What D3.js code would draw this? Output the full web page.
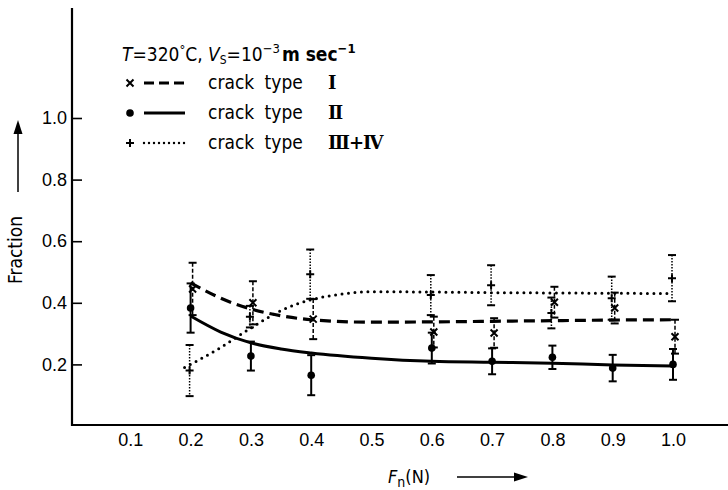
<!DOCTYPE html>
<html>
<head>
<meta charset="utf-8">
<script src="https://cdn.jsdelivr.net/npm/d3@7"></script>
<style>
  body { margin: 0; background: #fff; }
  svg { font-family: "DejaVu Sans Condensed", "Liberation Sans Narrow", "Liberation Sans", sans-serif; }
  .tick text { font-size: 18px; fill: #000; }
</style>
</head>
<body>
<div id="chart"></div>
<script>
// x values (normal force, N)
const forces = [0.2, 0.3, 0.4, 0.6, 0.7, 0.8, 0.9, 1.0];

// measured fractions and error half-widths, per crack type
const typeI    = [0.445, 0.400, 0.347, 0.305, 0.302, 0.402, 0.383, 0.290];
const typeIErr = [0.085, 0.070, 0.065, 0.050, 0.048, 0.050, 0.050, 0.055];
const typeII    = [0.383, 0.227, 0.165, 0.253, 0.210, 0.223, 0.188, 0.200];
const typeIIErr = [0.080, 0.047, 0.065, 0.050, 0.042, 0.038, 0.043, 0.050];
const typeIII    = [0.180, 0.355, 0.493, 0.425, 0.457, 0.367, 0.415, 0.480];
const typeIIIErr = [0.083, 0.035, 0.080, 0.065, 0.065, 0.050, 0.070, 0.075];

// fitted curves [force, fraction]
const curveI   = [[0.2,0.465],[0.25,0.415],[0.3,0.38],[0.35,0.358],[0.4,0.345],[0.5,0.337],[0.6,0.338],[0.7,0.340],[0.8,0.342],[0.9,0.344],[1.0,0.345]];
const curveII  = [[0.2,0.357],[0.25,0.305],[0.3,0.270],[0.35,0.250],[0.4,0.237],[0.5,0.220],[0.6,0.210],[0.7,0.207],[0.8,0.204],[0.9,0.198],[1.0,0.195]];
const curveIII = [[0.19,0.19],[0.25,0.255],[0.3,0.318],[0.35,0.375],[0.4,0.41],[0.45,0.428],[0.5,0.436],[0.6,0.435],[0.7,0.433],[0.8,0.432],[0.9,0.431],[1.0,0.430]];

const xTicks = [0.1, 0.2, 0.3, 0.4, 0.5, 0.6, 0.7, 0.8, 0.9, 1.0];
const yTicks = [0.2, 0.4, 0.6, 0.8, 1.0];

const width = 728, height = 490;

const svg = d3.select('#chart').append('svg')
    .attr('width', width)
    .attr('height', height);

const x = d3.scaleLinear().domain([0, 1]).range([70, 673]);
const y = d3.scaleLinear().domain([0, 1]).range([426, 118]);

// axes
svg.append('line')
    .attr('x1', 72).attr('x2', 72).attr('y1', 8).attr('y2', 426)
    .attr('stroke', '#000').attr('stroke-width', 2.2);
svg.append('line')
    .attr('x1', 71).attr('x2', 728).attr('y1', 425).attr('y2', 425)
    .attr('stroke', '#000').attr('stroke-width', 2.2);

const yAxisG = svg.append('g')
    .attr('transform', 'translate(72,0)')
    .call(d3.axisLeft(y).tickValues(yTicks).tickSize(-10).tickPadding(5).tickFormat(d3.format('.1f')));
yAxisG.select('.domain').remove();
yAxisG.selectAll('.tick line').attr('stroke-width', 1.6);

const xAxisG = svg.append('g')
    .attr('transform', 'translate(0,425)')
    .call(d3.axisBottom(x).tickValues(xTicks).tickSize(0).tickPadding(8).tickFormat(d3.format('.1f')));
xAxisG.select('.domain').remove();

// axis titles
svg.append('text')
    .attr('transform', 'translate(22,250) rotate(-90)')
    .attr('text-anchor', 'middle')
    .style('font-size', '19px')
    .text('Fraction');
svg.append('line')
    .attr('x1', 18).attr('x2', 18).attr('y1', 192).attr('y2', 132)
    .attr('stroke', '#000').attr('stroke-width', 1.5);
svg.append('path')
    .attr('d', 'M18,120 L13.5,134 L22.5,134 Z').attr('fill', '#000');

const xLab = svg.append('text')
    .attr('x', 388).attr('y', 483)
    .style('font-size', '18px');
xLab.append('tspan').style('font-style', 'italic').text('F');
xLab.append('tspan').attr('dy', 4).style('font-size', '14px').text('n');
xLab.append('tspan').attr('dy', -4).text('(N)');
svg.append('line')
    .attr('x1', 457).attr('x2', 515).attr('y1', 477).attr('y2', 477)
    .attr('stroke', '#000').attr('stroke-width', 1.5);
svg.append('path')
    .attr('d', 'M528,477 L514,472.5 L514,481.5 Z').attr('fill', '#000');

// curves
const line = d3.line().x(d => x(d[0])).y(d => y(d[1])).curve(d3.curveMonotoneX);
svg.append('path').datum(curveII).attr('d', line)
    .attr('fill', 'none').attr('stroke', '#000').attr('stroke-width', 3);
svg.append('path').datum(curveI).attr('d', line)
    .attr('fill', 'none').attr('stroke', '#000').attr('stroke-width', 3.2)
    .attr('stroke-dasharray', '11,6');
svg.append('path').datum(curveIII).attr('d', line)
    .attr('fill', 'none').attr('stroke', '#000').attr('stroke-width', 3)
    .attr('stroke-linecap', 'round').attr('stroke-dasharray', '0,6.5');

// error bars and markers
const series = [
  {vals: typeI, errs: typeIErr, dx: 2, dash: '4,2', marker: 'x'},
  {vals: typeII, errs: typeIIErr, dx: 0, dash: null, marker: 'dot'},
  {vals: typeIII, errs: typeIIIErr, dx: -1, dash: '1.5,1.5', marker: 'plus'}
];

series.forEach(s => {
  const g = svg.append('g');
  const pts = forces.map((f, i) => ({f, v: s.vals[i], e: s.errs[i]}));
  const bars = g.selectAll('g.bar').data(pts).join('g').attr('class', 'bar')
      .attr('transform', d => `translate(${x(d.f) + s.dx},0)`);
  bars.append('line')
      .attr('y1', d => y(d.v + d.e)).attr('y2', d => y(d.v - d.e))
      .attr('stroke', '#000').attr('stroke-width', s.dash ? 1.5 : 2)
      .attr('stroke-dasharray', s.dash);
  bars.append('line')
      .attr('x1', -4).attr('x2', 4)
      .attr('y1', d => y(d.v + d.e)).attr('y2', d => y(d.v + d.e))
      .attr('stroke', '#000').attr('stroke-width', 2);
  bars.append('line')
      .attr('x1', -4).attr('x2', 4)
      .attr('y1', d => y(d.v - d.e)).attr('y2', d => y(d.v - d.e))
      .attr('stroke', '#000').attr('stroke-width', 2);
  bars.each(function(d) {
    drawMarker(d3.select(this), 0, y(d.v), s.marker);
  });
});

function drawMarker(sel, cx, cy, type) {
  if (type === 'dot') {
    sel.append('circle').attr('cx', cx).attr('cy', cy).attr('r', 3.8).attr('fill', '#000');
  } else if (type === 'x') {
    sel.append('path')
        .attr('d', `M${cx-3.5},${cy-3.5}L${cx+3.5},${cy+3.5}M${cx-3.5},${cy+3.5}L${cx+3.5},${cy-3.5}`)
        .attr('stroke', '#000').attr('stroke-width', 2);
  } else {
    sel.append('path')
        .attr('d', `M${cx-4},${cy}L${cx+4},${cy}M${cx},${cy-4}L${cx},${cy+4}`)
        .attr('stroke', '#000').attr('stroke-width', 2);
  }
}

// legend
const title = svg.append('text')
    .attr('x', 122).attr('y', 61)
    .style('font-size', '19px');
title.append('tspan').style('font-style', 'italic').text('T');
title.append('tspan').text('=320');
title.append('tspan').attr('dy', -7).style('font-size', '13px').text('°');
title.append('tspan').attr('dy', 7).text('C, ');
title.append('tspan').style('font-style', 'italic').text('V');
title.append('tspan').attr('dy', 3).style('font-size', '12px').text('S');
title.append('tspan').attr('dy', -3).text('=10');
title.append('tspan').attr('dy', -8).style('font-size', '13px').text('−3');
title.append('tspan').attr('dy', 8).attr('dx', 2).style('font-weight', 'bold').text('m sec');
title.append('tspan').attr('dy', -8).style('font-size', '13px').style('font-weight', 'bold').text('−1');

const legendItems = [
  {label: 'crack type', num: 'Ⅰ', marker: 'x', dash: '10,5', w: 3},
  {label: 'crack type', num: 'Ⅱ', marker: 'dot', dash: null, w: 3},
  {label: 'crack type', num: 'Ⅲ+Ⅳ', marker: 'plus', dash: '0,5', w: 2.4}
];

legendItems.forEach((d, i) => {
  const cy = 83 + i * 30;
  const g = svg.append('g');
  drawMarker(g, 130, cy, d.marker);
  g.append('line')
      .attr('x1', 144).attr('x2', 185).attr('y1', cy).attr('y2', cy)
      .attr('stroke', '#000').attr('stroke-width', d.w)
      .attr('stroke-dasharray', d.dash)
      .attr('stroke-linecap', d.marker === 'plus' ? 'round' : 'butt');
  const t = g.append('text')
      .attr('x', 208).attr('y', cy + 6)
      .style('font-size', '19px')
      .style('word-spacing', '5px')
      .text(d.label);
  t.append('tspan').attr('x', 328)
      .style('font-family', 'DejaVu Serif, serif').style('font-weight', 'bold')
      .style('font-size', '18px').style('letter-spacing', '-1px')
      .text(d.num);
});
</script>
</body>
</html>
